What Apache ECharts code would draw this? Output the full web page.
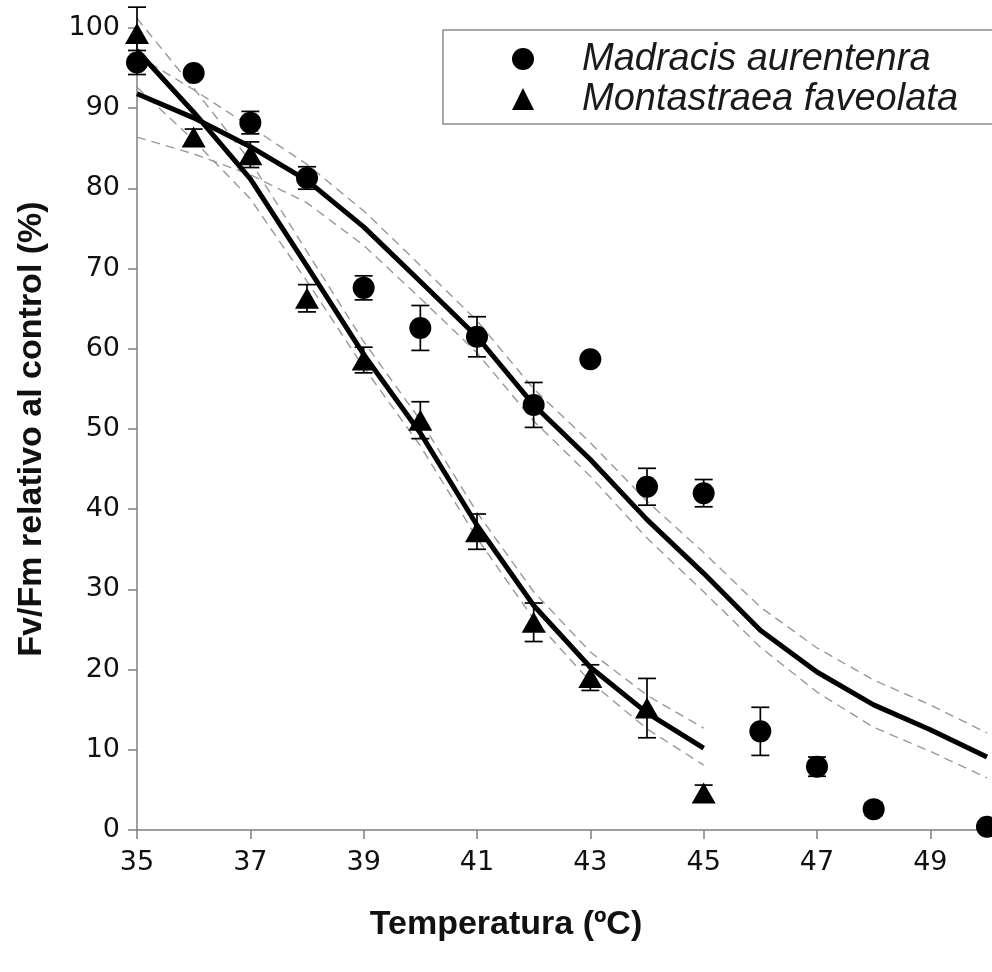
<!DOCTYPE html>
<html>
<head>
<meta charset="utf-8">
<script src="https://cdn.jsdelivr.net/npm/echarts@6/dist/echarts.min.js"></script>
<style>
  html, body { margin: 0; padding: 0; background: #fff; }
  #chart { width: 992px; height: 972px; }
</style>
</head>
<body>
<div id="chart"></div>
<script>
// ---- data ----
const seriesNames = ['Madracis aurentenra', 'Montastraea faveolata'];

const madX   = [35, 36, 37, 38, 39, 40, 41, 42, 43, 44, 45, 46, 47, 48, 50];
const madY   = [95.7, 94.4, 88.2, 81.3, 67.6, 62.6, 61.5, 53.0, 58.7, 42.8, 42.0, 12.3, 7.9, 2.6, 0.4];
const madErr = [1.5, 0.6, 1.4, 1.4, 1.5, 2.8, 2.5, 2.8, 0.6, 2.3, 1.7, 3.0, 1.2, 0.8, 0.4];

const monX   = [35, 36, 37, 38, 39, 40, 41, 42, 43, 44, 45];
const monY   = [99.3, 86.4, 84.2, 66.3, 58.6, 51.1, 37.2, 25.9, 19.0, 15.2, 4.6];
const monErr = [3.3, 1.0, 1.6, 1.7, 1.6, 2.3, 2.2, 2.4, 1.6, 3.7, 1.0];

const madFitX  = [35, 36, 37, 38, 39, 40, 41, 42, 43, 44, 45, 46, 47, 48, 49, 50];
const madFit   = [91.8, 88.8, 85.2, 81.0, 75.2, 68.4, 61.5, 53.0, 46.2, 38.7, 32.0, 24.9, 19.7, 15.6, 12.5, 9.1];
const madUpper = [96.6, 92.3, 87.7, 83.0, 77.2, 70.4, 63.5, 55.0, 48.3, 41.0, 34.6, 27.8, 22.7, 18.7, 15.6, 12.1];
const madLower = [86.4, 84.3, 81.7, 78.2, 72.9, 66.3, 59.5, 51.0, 44.1, 36.4, 29.7, 22.8, 17.2, 12.8, 9.8, 6.5];

const monFitX  = [35, 36, 37, 38, 39, 40, 41, 42, 43, 44, 45];
const monFit   = [97.2, 89.5, 81.2, 70.3, 59.3, 49.5, 38.0, 28.0, 20.3, 14.6, 10.2];
const monUpper = [101.2, 92.5, 83.4, 72.1, 60.9, 51.1, 39.6, 29.7, 22.2, 16.8, 12.7];
const monLower = [92.6, 86.0, 78.7, 68.4, 57.7, 47.9, 36.4, 26.3, 18.5, 12.6, 8.1];

const xTitle = 'Temperatura (ºC)';
const yTitle = 'Fv/Fm relativo al control (%)';

// ---- helpers ----
const pairs = (xs, ys) => xs.map((x, i) => [x, ys[i]]);
const triples = (xs, ys, es) => xs.map((x, i) => [x, ys[i], es[i]]);

function errRender(params, api) {
  const x = api.value(0), y = api.value(1), e = api.value(2);
  const hi = api.coord([x, y + e]);
  const lo = api.coord([x, y - e]);
  const w = 9;
  const st = { stroke: '#000', lineWidth: 1.7 };
  return {
    type: 'group',
    children: [
      { type: 'line', shape: { x1: hi[0], y1: hi[1], x2: lo[0], y2: lo[1] }, style: st },
      { type: 'line', shape: { x1: hi[0] - w, y1: hi[1], x2: hi[0] + w, y2: hi[1] }, style: st },
      { type: 'line', shape: { x1: lo[0] - w, y1: lo[1], x2: lo[0] + w, y2: lo[1] }, style: st }
    ]
  };
}

const fitLine = (name, xs, ys) => ({
  name: name, type: 'line', data: pairs(xs, ys), showSymbol: false, symbol: 'none',
  clip: false, silent: true, z: 4,
  lineStyle: { color: '#000', width: 5 }
});
const bandLine = (xs, ys) => ({
  type: 'line', data: pairs(xs, ys), showSymbol: false, symbol: 'none',
  clip: false, silent: true, z: 2,
  lineStyle: { color: '#999999', width: 1.4, type: [9, 6] }
});

const axisGray = '#7f7f7f';
const tickFont = { fontFamily: 'DejaVu Sans', fontSize: 27, color: '#111' };

const chart = echarts.init(document.getElementById('chart'), null, { renderer: 'canvas' });
chart.setOption({
  animation: false,
  backgroundColor: '#fff',
  grid: { left: 137, right: 5, top: 28, bottom: 142, containLabel: false },
  legend: {
    left: 443, top: 30,
    orient: 'vertical',
    selectedMode: false,
    itemWidth: 22, itemHeight: 22,
    itemGap: 2,
    padding: [10, 80, 6, 69],
    borderColor: '#8c8c8c', borderWidth: 1.5,
    backgroundColor: '#fff',
    textStyle: {
      fontFamily: 'Liberation Sans', fontStyle: 'italic', fontSize: 38,
      color: '#1a1a1a', lineHeight: 36, padding: [0, 0, 0, 43]
    },
    data: [
      { name: seriesNames[0], icon: 'circle', itemStyle: { color: '#000' } },
      { name: seriesNames[1], icon: 'triangle', itemStyle: { color: '#000' } }
    ]
  },
  xAxis: {
    type: 'value', min: 35, max: 50, interval: 2,
    name: xTitle, nameLocation: 'middle', nameGap: 78,
    nameTextStyle: { fontFamily: 'Liberation Sans', fontWeight: 'bold', fontSize: 34, color: '#111', padding: [0, 112, 0, 0] },
    axisLine: { show: true, lineStyle: { color: axisGray, width: 1.5 } },
    axisTick: { show: true, inside: false, length: 9, lineStyle: { color: axisGray, width: 1.5 } },
    axisLabel: Object.assign({ margin: 19, showMaxLabel: false }, tickFont),
    splitLine: { show: false }
  },
  yAxis: {
    type: 'value', min: 0, max: 100, interval: 10,
    name: yTitle, nameLocation: 'middle', nameGap: 88, nameRotate: 90,
    nameTextStyle: { fontFamily: 'Liberation Sans', fontWeight: 'bold', fontSize: 34, color: '#111' },
    axisLine: { show: true, lineStyle: { color: axisGray, width: 1.5 } },
    axisTick: { show: true, inside: false, length: 9, lineStyle: { color: axisGray, width: 1.5 } },
    axisLabel: Object.assign({ margin: 17 }, tickFont),
    splitLine: { show: false }
  },
  series: [
    bandLine(madFitX, madUpper),
    bandLine(madFitX, madLower),
    bandLine(monFitX, monUpper),
    bandLine(monFitX, monLower),
    fitLine('fitMad', madFitX, madFit),
    fitLine('fitMon', monFitX, monFit),
    {
      type: 'custom', renderItem: errRender, data: triples(madX, madY, madErr),
      encode: { x: 0, y: 1 }, clip: false, silent: true, z: 5
    },
    {
      type: 'custom', renderItem: errRender, data: triples(monX, monY, monErr),
      encode: { x: 0, y: 1 }, clip: false, silent: true, z: 5
    },
    {
      name: seriesNames[0], type: 'scatter', data: pairs(madX, madY),
      symbol: 'circle', symbolSize: 22, clip: false, z: 6,
      itemStyle: { color: '#000', opacity: 1 }
    },
    {
      name: seriesNames[1], type: 'scatter', data: pairs(monX, monY),
      symbol: 'triangle', symbolSize: [24, 21], clip: false, z: 6,
      itemStyle: { color: '#000', opacity: 1 }
    }
  ]
});
</script>
</body>
</html>
